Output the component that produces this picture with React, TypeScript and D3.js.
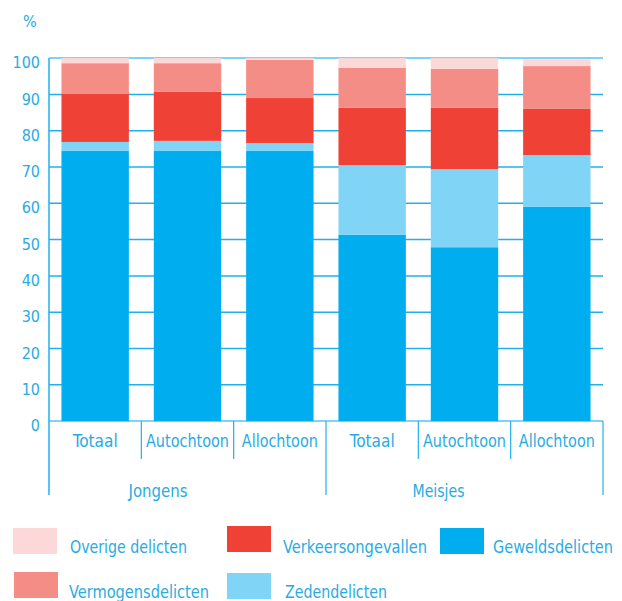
import React from "react";
import * as d3 from "d3";

const categories = ["Totaal", "Autochtoon", "Allochtoon", "Totaal", "Autochtoon", "Allochtoon"];
const groups = ["Jongens", "Meisjes"];
const seriesNames = ["Geweldsdelicten", "Zedendelicten", "Verkeersongevallen", "Vermogensdelicten", "Overige delicten"];
const geweld = [74.4, 74.4, 74.4, 51.3, 47.9, 59.0];
const zeden = [2.5, 2.8, 2.2, 19.2, 21.5, 14.3];
const verkeer = [13.2, 13.5, 12.4, 15.8, 16.9, 12.7];
const vermogen = [8.5, 7.9, 10.5, 11.0, 10.7, 11.8];
const overige = [1.4, 1.4, 0.5, 2.7, 3.0, 1.9];
const yTicks = [0, 10, 20, 30, 40, 50, 60, 70, 80, 90, 100];

const colors: Record<string, string> = {
  Geweldsdelicten: "#00aeef",
  Zedendelicten: "#80d5f7",
  Verkeersongevallen: "#ef4136",
  Vermogensdelicten: "#f58d87",
  "Overige delicten": "#fcd9d8",
};

// rendered text widths (px) to mimic the condensed typeface of the reference
const textWidths: Record<string, number> = {
  Totaal: 45,
  Autochtoon: 83,
  Allochtoon: 76,
  Jongens: 59,
  Meisjes: 52,
  "Overige delicten": 117,
  Verkeersongevallen: 144,
  Geweldsdelicten: 120,
  Vermogensdelicten: 140,
  Zedendelicten: 102,
};

const textColor = "#29abe2";
const lineColor = "#22b0ea";
const font = "'DejaVu Sans Condensed', 'DejaVu Sans', sans-serif";

function FitText(props: any) {
  const { children, ...rest } = props;
  const w = textWidths[children as string];
  return (
    <text {...rest} textLength={w} lengthAdjust="spacingAndGlyphs">
      {children}
    </text>
  );
}

export default function App() {
  const left = 49;
  const right = 603;
  const y = d3.scaleLinear().domain([0, 100]).range([421.1, 58.1]);
  const x = d3.scaleBand<number>().domain(d3.range(6)).range([left, right]).paddingInner(0.27).paddingOuter(0.135);
  const xb = d3.scaleBand<number>().domain(d3.range(6)).range([left, right]);

  const rows = categories.map((c, i) => ({
    idx: i,
    Geweldsdelicten: geweld[i],
    Zedendelicten: zeden[i],
    Verkeersongevallen: verkeer[i],
    Vermogensdelicten: vermogen[i],
    "Overige delicten": overige[i],
  }));
  const stack = d3.stack<any>().keys(seriesNames)(rows);

  const legend = [
    { name: "Overige delicten", sx: 13, sy: 528, tx: 70, ty: 553 },
    { name: "Verkeersongevallen", sx: 227, sy: 526, tx: 283, ty: 553 },
    { name: "Geweldsdelicten", sx: 440, sy: 528, tx: 493, ty: 553 },
    { name: "Vermogensdelicten", sx: 14, sy: 572, tx: 69, ty: 598 },
    { name: "Zedendelicten", sx: 227, sy: 573, tx: 285, ty: 598 },
  ];

  return (
    <svg width={622} height={601} style={{ position: "absolute", left: 0, top: 0 }} fontFamily={font}>
      <text x={23} y={27} fill={textColor} fontSize={16}>%</text>
      {yTicks.map((t) => (
        <g key={t}>
          <line x1={left} x2={right} y1={y(t)} y2={y(t)} stroke={t === 0 || t === 100 ? "#7fd3f6" : lineColor} strokeWidth={t === 0 || t === 100 ? 2 : 1.5} />
          <text x={40} y={y(t) + 4.5} dy="0.35em" textAnchor="end" fill={textColor} fontSize={16}>{t}</text>
        </g>
      ))}
      {stack.map((s) => (
        <g key={s.key} fill={colors[s.key]}>
          {s.map((d, i) => (
            <rect key={i} x={x(i)} width={x.bandwidth()} y={y(d[1])} height={y(d[0]) - y(d[1])} />
          ))}
        </g>
      ))}
      <line x1={left} x2={left} y1={58} y2={495} stroke={lineColor} strokeWidth={1.5} />
      {d3.range(1, 6).map((i) => (
        <line key={i} x1={xb(i)} x2={xb(i)} y1={421} y2={i === 3 ? 495 : 459} stroke={lineColor} strokeWidth={1.2} />
      ))}
      <line x1={right} x2={right} y1={421} y2={495} stroke={lineColor} strokeWidth={1.2} />
      {categories.map((c, i) => (
        <FitText key={i} x={xb(i)! + xb.bandwidth() / 2 - textWidths[c] / 2} y={447} fill={textColor} fontSize={18}>{c}</FitText>
      ))}
      {groups.map((g, gi) => (
        <FitText key={g} x={xb(gi * 3)! + xb.bandwidth() * 1.5 - textWidths[g]} y={497} fill={textColor} fontSize={18}>{g}</FitText>
      ))}
      {legend.map((l) => (
        <g key={l.name}>
          <rect x={l.sx} y={l.sy} width={44} height={26} fill={colors[l.name]} />
          <FitText x={l.tx} y={l.ty} fill={textColor} fontSize={17}>{l.name}</FitText>
        </g>
      ))}
    </svg>
  );
}
